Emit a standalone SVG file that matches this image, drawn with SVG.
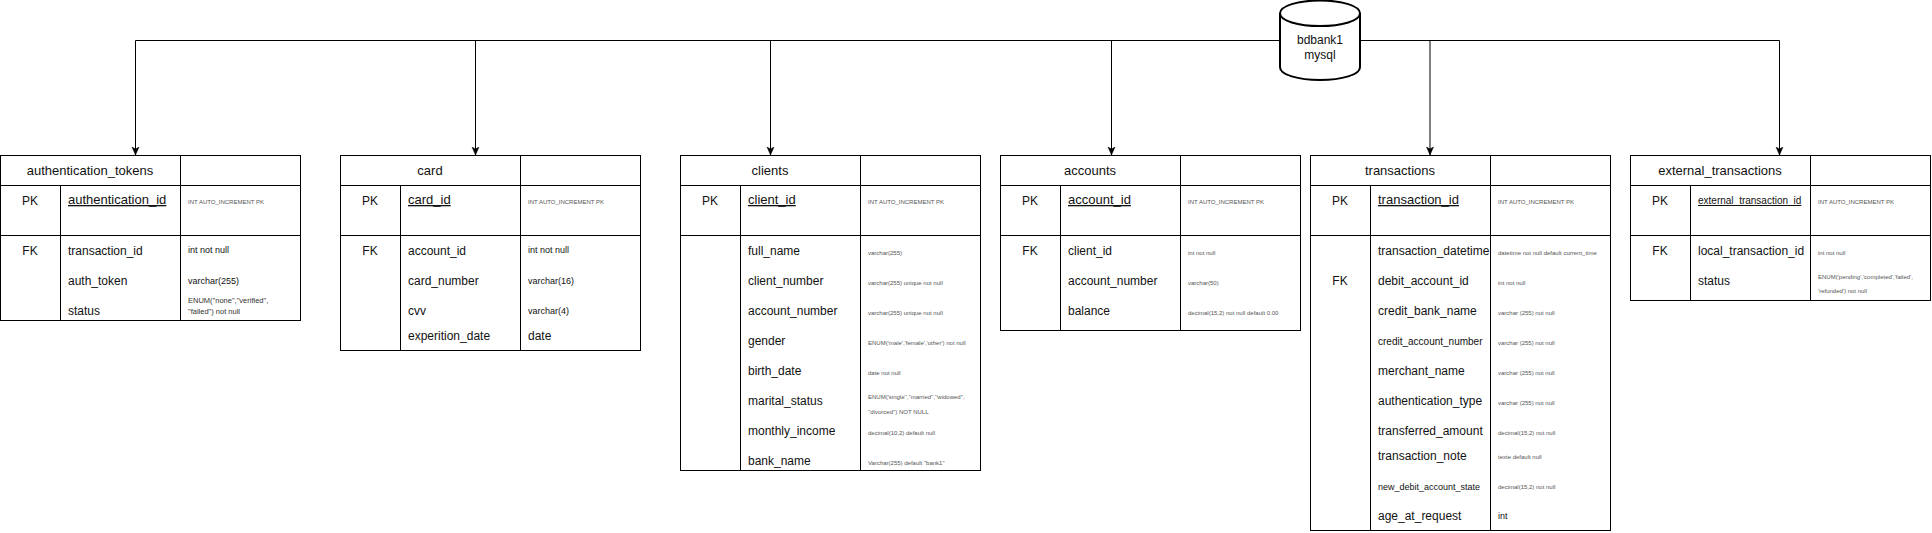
<svg xmlns="http://www.w3.org/2000/svg" width="1932" height="533" viewBox="0 0 1932 533">
<style>
text{font-family:"Liberation Sans",Arial,sans-serif;fill:#111}
.b{fill:#fff;stroke:#000;stroke-width:1;shape-rendering:crispEdges}
.l{fill:none;stroke:#000;stroke-width:1;shape-rendering:crispEdges}
.t{font-size:13px;text-anchor:middle}
.k{font-size:12px;text-anchor:middle}
.p{font-size:13px;text-decoration:underline}
.n{font-size:12px}
.n10{font-size:10px}
.n9{font-size:9px}
.a{font-size:9px}
.a8{font-size:7.5px;fill:#333}
.s{font-size:6px;fill:#555}
.c{font-size:12px;text-anchor:middle}
.e{fill:none;stroke:#000;stroke-width:1}
</style>
<defs>
<marker id="arr" markerUnits="userSpaceOnUse" markerWidth="10" markerHeight="10" refX="8" refY="4" orient="auto">
<path d="M0 0.5L8 4L0 7.5L2 4Z" fill="#000" stroke="#000" stroke-width="0.5"/>
</marker>
</defs>
<g id="connectors">
<path class="e" d="M1280 40.5H135.5V155" marker-end="url(#arr)"/>
<path class="e" d="M475.5 40.5V155" marker-end="url(#arr)"/>
<path class="e" d="M770.5 40.5V155" marker-end="url(#arr)"/>
<path class="e" d="M1111.5 40.5V155" marker-end="url(#arr)"/>
<path class="e" d="M1360 40.5H1779.5V155" marker-end="url(#arr)"/>
<path class="e" d="M1430 40.5V155" marker-end="url(#arr)"/>
</g>
<g id="bdbank1">
<path d="M1280 13.3C1280 5.9 1298 0.5 1320 0.5S1360 5.9 1360 13.3V67.2C1360 74.6 1342 80 1320 80S1280 74.6 1280 67.2Z" fill="#fff" stroke="#000" stroke-width="2"/>
<path d="M1280 13.3C1280 20.7 1298 26.1 1320 26.1S1360 20.7 1360 13.3" fill="none" stroke="#000" stroke-width="2"/>
<text class="c" x="1320" y="44">bdbank1</text>
<text class="c" x="1320" y="59">mysql</text>
</g>
<g id="authentication_tokens">
<rect class="b" x="0.5" y="155.5" width="300" height="165"/>
<path class="l" d="M0.5 185.5H300.5M0.5 235.5H300.5M60.5 185.5V320.5M180.5 155.5V320.5"/>
<text class="t" x="90" y="175">authentication_tokens</text>
<text class="k" x="30" y="205">PK</text>
<text class="p" x="68" y="204">authentication_id</text>
<text class="s" x="188" y="204">INT AUTO_INCREMENT PK</text>
<text class="k" x="30" y="255">FK</text>
<text class="n" x="68" y="255">transaction_id</text>
<text class="a" x="188" y="253">int not null</text>
<text class="n" x="68" y="285">auth_token</text>
<text class="a" x="188" y="284">varchar(255)</text>
<text class="n" x="68" y="315">status</text>
<text class="a8" x="188" y="303">ENUM("none","verified",</text>
<text class="a8" x="188" y="314">"failed") not null</text>
</g>
<g id="card">
<rect class="b" x="340.5" y="155.5" width="300" height="195"/>
<path class="l" d="M340.5 185.5H640.5M340.5 235.5H640.5M400.5 185.5V350.5M520.5 155.5V350.5"/>
<text class="t" x="430" y="175">card</text>
<text class="k" x="370" y="205">PK</text>
<text class="p" x="408" y="204">card_id</text>
<text class="s" x="528" y="204">INT AUTO_INCREMENT PK</text>
<text class="k" x="370" y="255">FK</text>
<text class="n" x="408" y="255">account_id</text>
<text class="a" x="528" y="253">int not null</text>
<text class="n" x="408" y="285">card_number</text>
<text class="a" x="528" y="284">varchar(16)</text>
<text class="n" x="408" y="315">cvv</text>
<text class="a" x="528" y="314">varchar(4)</text>
<text class="n" x="408" y="340">experition_date</text>
<text class="n" x="528" y="340">date</text>
</g>
<g id="clients">
<rect class="b" x="680.5" y="155.5" width="300" height="315"/>
<path class="l" d="M680.5 185.5H980.5M680.5 235.5H980.5M740.5 185.5V470.5M860.5 155.5V470.5"/>
<text class="t" x="770" y="175">clients</text>
<text class="k" x="710" y="205">PK</text>
<text class="p" x="748" y="204">client_id</text>
<text class="s" x="868" y="204">INT AUTO_INCREMENT PK</text>
<text class="n" x="748" y="255">full_name</text>
<text class="s" x="868" y="255">varchar(255)</text>
<text class="n" x="748" y="285">client_number</text>
<text class="s" x="868" y="285">varchar(255) unique not null</text>
<text class="n" x="748" y="315">account_number</text>
<text class="s" x="868" y="315">varchar(255) unique not null</text>
<text class="n" x="748" y="345">gender</text>
<text class="s" x="868" y="345">ENUM('male','female','other') not null</text>
<text class="n" x="748" y="375">birth_date</text>
<text class="s" x="868" y="375">date not null</text>
<text class="n" x="748" y="405">marital_status</text>
<text class="s" x="868" y="399">ENUM('single'',''married'',''widowed'',</text>
<text class="s" x="868" y="414">''divorced'') NOT NULL</text>
<text class="n" x="748" y="435">monthly_income</text>
<text class="s" x="868" y="435">decimal(10,2) default null</text>
<text class="n" x="748" y="465">bank_name</text>
<text class="s" x="868" y="465">Varchar(255) default "bank1"</text>
</g>
<g id="accounts">
<rect class="b" x="1000.5" y="155.5" width="300" height="175"/>
<path class="l" d="M1000.5 185.5H1300.5M1000.5 235.5H1300.5M1060.5 185.5V330.5M1180.5 155.5V330.5"/>
<text class="t" x="1090" y="175">accounts</text>
<text class="k" x="1030" y="205">PK</text>
<text class="p" x="1068" y="204">account_id</text>
<text class="s" x="1188" y="204">INT AUTO_INCREMENT PK</text>
<text class="k" x="1030" y="255">FK</text>
<text class="n" x="1068" y="255">client_id</text>
<text class="s" x="1188" y="255">int not null</text>
<text class="n" x="1068" y="285">account_number</text>
<text class="s" x="1188" y="285">varchar(50)</text>
<text class="n" x="1068" y="315">balance</text>
<text class="s" x="1188" y="315">decimal(15,2) not null default 0.00</text>
</g>
<g id="transactions">
<rect class="b" x="1310.5" y="155.5" width="300" height="375"/>
<path class="l" d="M1310.5 185.5H1610.5M1310.5 235.5H1610.5M1370.5 185.5V530.5M1490.5 155.5V530.5"/>
<text class="t" x="1400" y="175">transactions</text>
<text class="k" x="1340" y="205">PK</text>
<text class="p" x="1378" y="204">transaction_id</text>
<text class="s" x="1498" y="204">INT AUTO_INCREMENT PK</text>
<text class="n" x="1378" y="255">transaction_datetime</text>
<text class="s" x="1498" y="255">datetime not null default current_time</text>
<text class="k" x="1340" y="285">FK</text>
<text class="n" x="1378" y="285">debit_account_id</text>
<text class="s" x="1498" y="285">int not null</text>
<text class="n" x="1378" y="315">credit_bank_name</text>
<text class="s" x="1498" y="315">varchar (255) not null</text>
<text class="n10" x="1378" y="345">credit_account_number</text>
<text class="s" x="1498" y="345">varchar (255) not null</text>
<text class="n" x="1378" y="375">merchant_name</text>
<text class="s" x="1498" y="375">varchar (255) not null</text>
<text class="n" x="1378" y="405">authentication_type</text>
<text class="s" x="1498" y="405">varchar (255) not null</text>
<text class="n" x="1378" y="435">transferred_amount</text>
<text class="s" x="1498" y="435">decimal(15,2) not null</text>
<text class="n" x="1378" y="460">transaction_note</text>
<text class="s" x="1498" y="459">texte default null</text>
<text class="n9" x="1378" y="490">new_debit_account_state</text>
<text class="s" x="1498" y="489">decimal(15,2) not null</text>
<text class="n" x="1378" y="520">age_at_request</text>
<text class="a" x="1498" y="519">int</text>
</g>
<g id="external_transactions">
<rect class="b" x="1630.5" y="155.5" width="300" height="145"/>
<path class="l" d="M1630.5 185.5H1930.5M1630.5 235.5H1930.5M1690.5 185.5V300.5M1810.5 155.5V300.5"/>
<text class="t" x="1720" y="175">external_transactions</text>
<text class="k" x="1660" y="205">PK</text>
<text class="p" x="1698" y="204" style="font-size:10px">external_transaction_id</text>
<text class="s" x="1818" y="204">INT AUTO_INCREMENT PK</text>
<text class="k" x="1660" y="255">FK</text>
<text class="n" x="1698" y="255">local_transaction_id</text>
<text class="s" x="1818" y="255">int not null</text>
<text class="n" x="1698" y="285">status</text>
<text class="s" x="1818" y="279">ENUM('pending','completed','failed',</text>
<text class="s" x="1818" y="293">'refunded') not null</text>
</g>
</svg>
